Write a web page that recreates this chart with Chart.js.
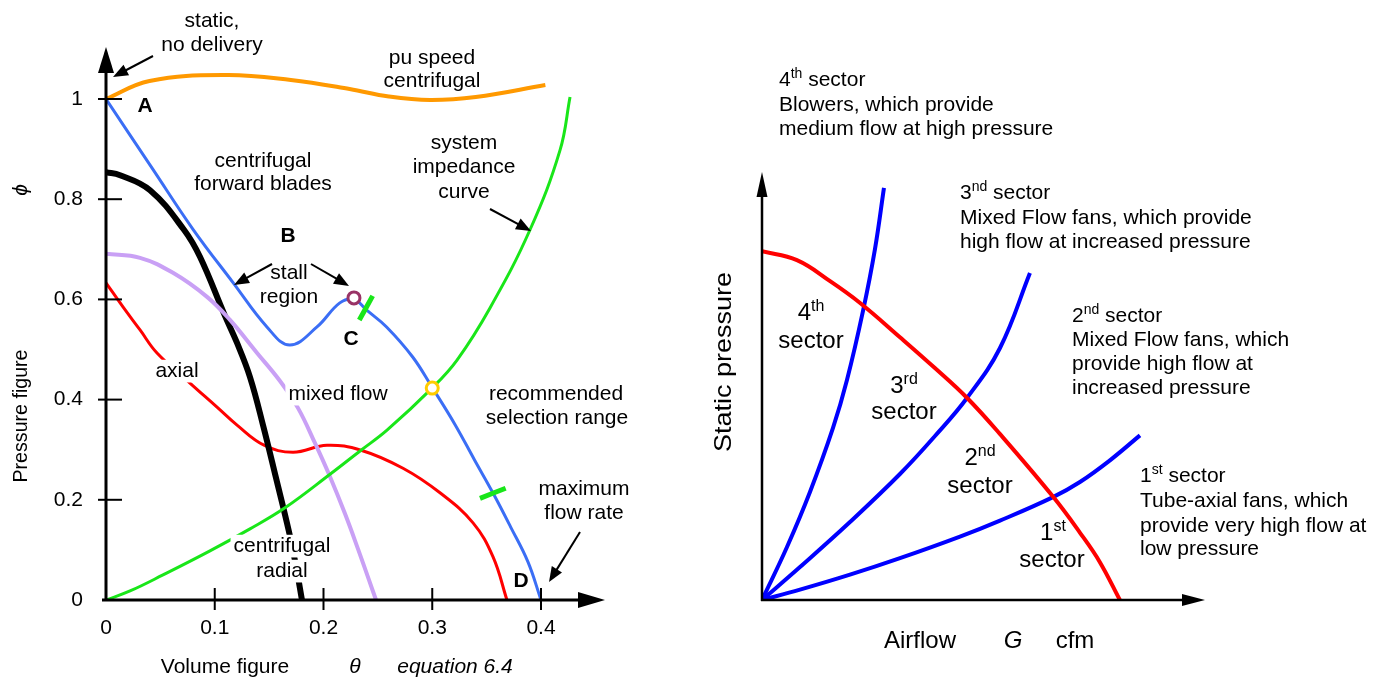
<!DOCTYPE html>
<html>
<head>
<meta charset="utf-8">
<script src="https://cdn.jsdelivr.net/npm/chart.js@4.4.0/dist/chart.umd.min.js"></script>
<style>
body { margin: 0; background: #fff; }
#wrap { position: relative; width: 1376px; height: 680px; }
#left { position: absolute; left: 0; top: 0; }
#right { position: absolute; left: 680px; top: 0; }
</style>
</head>
<body>
<div id="wrap">
<canvas id="left" width="680" height="680"></canvas>
<canvas id="right" width="696" height="680"></canvas>
</div>
<script>
// ---- left diagram: volume figure (theta) vs pressure figure (phi)
const xTicks = [0, 0.1, 0.2, 0.3, 0.4];
const yTicks = [0, 0.2, 0.4, 0.6, 0.8, 1];

const puTheta = [0, 0.04, 0.111, 0.17, 0.224, 0.26, 0.298, 0.34, 0.404];
const puPhi = [1.0, 1.036, 1.048, 1.038, 1.02, 1.005, 0.998, 1.004, 1.028];

const fwdTheta = [0, 0.043, 0.08, 0.117, 0.148, 0.169, 0.194, 0.215, 0.228, 0.24, 0.258, 0.282, 0.3, 0.321, 0.339, 0.356, 0.372, 0.388, 0.4];
const fwdPhi = [1.0, 0.86, 0.74, 0.633, 0.545, 0.509, 0.545, 0.593, 0.6, 0.578, 0.545, 0.485, 0.424, 0.35, 0.279, 0.213, 0.146, 0.076, 0];

const radialTheta = [0, 0.0129, 0.0405, 0.0717, 0.0864, 0.1094, 0.1205, 0.1324, 0.1444, 0.1563, 0.1683, 0.1747, 0.1802];
const radialPhi = [0.854, 0.848, 0.818, 0.739, 0.685, 0.567, 0.513, 0.445, 0.349, 0.244, 0.136, 0.068, 0];

const mixedTheta = [0, 0.0313, 0.0616, 0.0929, 0.114, 0.1389, 0.16, 0.1766, 0.1922, 0.206, 0.2198, 0.2317, 0.2418, 0.2483];
const mixedPhi = [0.691, 0.683, 0.653, 0.605, 0.559, 0.493, 0.437, 0.383, 0.313, 0.246, 0.172, 0.102, 0.04, 0];

const axialTheta = [0, 0.0156, 0.0313, 0.0469, 0.0772, 0.1021, 0.1205, 0.1453, 0.172, 0.2032, 0.2345, 0.2731, 0.3071, 0.3375, 0.3559, 0.3687];
const axialPhi = [0.633, 0.585, 0.539, 0.493, 0.433, 0.385, 0.349, 0.309, 0.295, 0.309, 0.299, 0.263, 0.214, 0.154, 0.086, 0];

const systemTheta = [0, 0.0221, 0.0524, 0.0956, 0.1324, 0.1646, 0.206, 0.2345, 0.2584, 0.2998, 0.3228, 0.3531, 0.3899, 0.4175, 0.4267];
const systemPhi = [0, 0.018, 0.05, 0.098, 0.142, 0.184, 0.251, 0.299, 0.339, 0.423, 0.479, 0.583, 0.739, 0.898, 1.004];

const stallPoint = [0.228, 0.603];      // point C
const operatingPoint = [0.3, 0.423];    // fan curve meets system curve
const rangeMark1Theta = [0.2329, 0.2452];
const rangeMark1Phi = [0.559, 0.607];
const rangeMark2Theta = [0.3439, 0.3675];
const rangeMark2Phi = [0.203, 0.223];

// ---- right diagram: airflow vs static pressure (no units on axes)
const fanFlow = [0, 7.8, 15.2, 21.9, 30.8, 38.6, 45.8, 53.1, 65.0, 71.0, 75.4, 79.9];
const fanPressure = [81.5, 79.4, 74.5, 69.4, 61.4, 54.2, 47.2, 38.8, 24.1, 15.7, 8.9, 0];

const sys4Flow = [0, 5.58, 10.71, 15.85, 18.97, 22.54, 25.22, 27.23];
const sys4Pressure = [0, 12.38, 25.23, 40.19, 51.4, 67.5, 82.0, 96.3];

const sys3Flow = [0, 8.48, 19.64, 30.8, 38.62, 45.76, 53.13, 59.82];
const sys3Pressure = [0, 7.71, 18.22, 29.44, 38.32, 47.2, 58.88, 76.4];

const sys2Flow = [0, 8.48, 19.64, 30.8, 44.2, 53.13, 64.96, 70.98, 77.68, 84.38];
const sys2Pressure = [0, 2.41, 5.91, 9.77, 14.81, 18.55, 24.04, 27.57, 32.64, 38.46];

const FONT = "'Liberation Sans', Arial, Helvetica, sans-serif";

function pts(xs, ys) {
    return xs.map(function (x, i) { return { x: x, y: ys[i] }; });
}

function curve(xs, ys, color, width, order) {
    return {
        data: pts(xs, ys),
        showLine: true,
        borderColor: color,
        borderWidth: width,
        pointRadius: 0,
        fill: false,
        tension: 0.4,
        order: order
    };
}

function marker(p, color) {
    return {
        data: [{ x: p[0], y: p[1] }],
        showLine: false,
        pointStyle: 'circle',
        pointRadius: 6,
        pointBorderWidth: 3,
        pointBorderColor: color,
        pointBackgroundColor: '#fff',
        order: 0
    };
}

function drawText(ctx, t) {
    ctx.save();
    ctx.translate(t.x, t.y);
    if (t.rot) ctx.rotate(t.rot);
    var size = t.size || 21;
    var supSize = t.supSize || Math.round(size * 0.66);
    var parts = t.parts || [{ s: t.s }];
    var fontFor = function (p) {
        return [t.style || '', t.weight || '', (p.sup ? supSize : size) + 'px', FONT].join(' ').trim();
    };
    var total = 0;
    parts.forEach(function (p) {
        ctx.font = fontFor(p);
        p.w = ctx.measureText(p.s).width;
        total += p.w;
    });
    if (t.w) ctx.scale(t.w / total, 1);
    var x0 = t.align === 'left' ? 0 : -total / 2;
    if (t.bg) {
        ctx.fillStyle = '#fff';
        ctx.fillRect(x0 - 3, -size * 0.82, total + 6, size * 1.08);
    }
    ctx.fillStyle = '#000';
    ctx.textAlign = 'left';
    ctx.textBaseline = 'alphabetic';
    parts.forEach(function (p) {
        ctx.font = fontFor(p);
        ctx.fillText(p.s, x0, p.sup ? -size * 0.38 : 0);
        x0 += p.w;
    });
    ctx.restore();
}

function arrowLine(ctx, x1, y1, x2, y2, head, half, lw) {
    var a = Math.atan2(y2 - y1, x2 - x1);
    var bx = x2 - head * Math.cos(a), by = y2 - head * Math.sin(a);
    ctx.lineWidth = lw;
    ctx.beginPath();
    ctx.moveTo(x1, y1);
    ctx.lineTo(bx + Math.cos(a), by + Math.sin(a));
    ctx.stroke();
    ctx.beginPath();
    ctx.moveTo(x2, y2);
    ctx.lineTo(bx + half * Math.sin(a), by - half * Math.cos(a));
    ctx.lineTo(bx - half * Math.sin(a), by + half * Math.cos(a));
    ctx.closePath();
    ctx.fill();
}

// texts and arrows are given in page pixels
const leftLabels = [
    { x: 212, y: 27, s: 'static,' },
    { x: 212, y: 51, s: 'no delivery' },
    { x: 432, y: 64, s: 'pu speed' },
    { x: 432, y: 87, s: 'centrifugal' },
    { x: 145, y: 112, s: 'A', weight: 'bold' },
    { x: 263, y: 167, s: 'centrifugal' },
    { x: 263, y: 190, s: 'forward blades' },
    { x: 464, y: 149, s: 'system' },
    { x: 464, y: 173, s: 'impedance' },
    { x: 464, y: 198, s: 'curve' },
    { x: 288, y: 242, s: 'B', weight: 'bold' },
    { x: 289, y: 279, s: 'stall' },
    { x: 289, y: 303, s: 'region' },
    { x: 351, y: 345, s: 'C', weight: 'bold' },
    { x: 177, y: 377, s: 'axial', bg: true },
    { x: 338, y: 400, s: 'mixed flow', bg: true },
    { x: 556, y: 400, s: 'recommended' },
    { x: 557, y: 424, s: 'selection range' },
    { x: 584, y: 495, s: 'maximum' },
    { x: 584, y: 519, s: 'flow rate' },
    { x: 521, y: 587, s: 'D', weight: 'bold' },
    { x: 282, y: 552, s: 'centrifugal', bg: true },
    { x: 282, y: 577, s: 'radial', bg: true },
    { x: 225, y: 673, s: 'Volume figure' },
    { x: 355, y: 673, s: 'θ', style: 'italic' },
    { x: 455, y: 673, s: 'equation 6.4', style: 'italic' },
    { x: 27, y: 416, s: 'Pressure figure', rot: -Math.PI / 2, size: 20, w: 133 },
    { x: 27, y: 190, s: 'ϕ', rot: -Math.PI / 2, style: 'italic' }
];
const leftArrows = [
    [153, 56, 113, 77],
    [272, 264, 234, 285],
    [311, 264, 349, 286],
    [490, 209, 531, 231],
    [580, 532, 549, 582]
];

const rightLabels = [
    { x: 779, y: 86, parts: [{ s: '4' }, { s: 'th', sup: 1 }, { s: ' sector' }], align: 'left', supSize: 14 },
    { x: 779, y: 111, s: 'Blowers, which provide', align: 'left' },
    { x: 779, y: 135, s: 'medium flow at high pressure', align: 'left' },
    { x: 960, y: 199, parts: [{ s: '3' }, { s: 'nd', sup: 1 }, { s: ' sector' }], align: 'left', supSize: 14 },
    { x: 960, y: 224, s: 'Mixed Flow fans, which provide', align: 'left' },
    { x: 960, y: 248, s: 'high flow at increased pressure', align: 'left' },
    { x: 1072, y: 322, parts: [{ s: '2' }, { s: 'nd', sup: 1 }, { s: ' sector' }], align: 'left', supSize: 14 },
    { x: 1072, y: 346, s: 'Mixed Flow fans, which', align: 'left' },
    { x: 1072, y: 370, s: 'provide high flow at', align: 'left' },
    { x: 1072, y: 394, s: 'increased pressure', align: 'left' },
    { x: 1140, y: 482, parts: [{ s: '1' }, { s: 'st', sup: 1 }, { s: ' sector' }], align: 'left', supSize: 14 },
    { x: 1140, y: 507, s: 'Tube-axial fans, which', align: 'left' },
    { x: 1140, y: 532, s: 'provide very high flow at', align: 'left' },
    { x: 1140, y: 555, s: 'low pressure', align: 'left' },
    { x: 811, y: 320, parts: [{ s: '4' }, { s: 'th', sup: 1 }], size: 24, supSize: 16 },
    { x: 811, y: 348, s: 'sector', size: 24 },
    { x: 904, y: 393, parts: [{ s: '3' }, { s: 'rd', sup: 1 }], size: 24, supSize: 16 },
    { x: 904, y: 419, s: 'sector', size: 24 },
    { x: 980, y: 465, parts: [{ s: '2' }, { s: 'nd', sup: 1 }], size: 24, supSize: 16 },
    { x: 980, y: 493, s: 'sector', size: 24 },
    { x: 1053, y: 540, parts: [{ s: '1' }, { s: 'st', sup: 1 }], size: 24, supSize: 16 },
    { x: 1052, y: 567, s: 'sector', size: 24 },
    { x: 920, y: 648, s: 'Airflow', size: 24 },
    { x: 1013, y: 648, s: 'G', size: 24, style: 'italic' },
    { x: 1075, y: 648, s: 'cfm', size: 24 },
    { x: 731, y: 362, s: 'Static pressure', size: 24, rot: -Math.PI / 2, w: 180 }
];

function makeDrawPlugin(ox, opt) {
    return {
        id: 'drawings',
        afterDatasetsDraw: function (chart) {
            var ctx = chart.ctx;
            var xs = chart.scales.x, ys = chart.scales.y, ca = chart.chartArea;
            var axX = xs.getPixelForValue(0), axY = ys.getPixelForValue(0);
            ctx.save();
            ctx.fillStyle = '#000';
            ctx.strokeStyle = '#000';
            // axes with arrow heads
            arrowLine(ctx, axX, axY + opt.yAxisBelow, axX, ca.top, opt.yHead, opt.yHalf, opt.axisWidth);
            arrowLine(ctx, axX - opt.xAxisLeft, axY, ca.right, axY, opt.xHead, opt.xHalf, opt.axisWidth);
            if (opt.ticks) {
                ctx.lineWidth = 2;
                yTicks.forEach(function (v) {
                    if (v === 0) return;
                    var y = ys.getPixelForValue(v);
                    ctx.beginPath(); ctx.moveTo(axX - 8, y); ctx.lineTo(axX + 16, y); ctx.stroke();
                });
                xTicks.forEach(function (v) {
                    if (v === 0) return;
                    var x = xs.getPixelForValue(v);
                    ctx.beginPath(); ctx.moveTo(x, axY - 12); ctx.lineTo(x, axY + 10); ctx.stroke();
                });
            }
            ctx.translate(-ox, 0);
            (opt.arrows || []).forEach(function (a) {
                arrowLine(ctx, a[0], a[1], a[2], a[3], 15, 6, 2);
            });
            opt.labels.forEach(function (t) { drawText(ctx, t); });
            ctx.restore();
        }
    };
}

const tickFont = { family: FONT, size: 21 };

new Chart(document.getElementById('left'), {
    type: 'scatter',
    data: {
        datasets: [
            marker(stallPoint, '#993366'),
            marker(operatingPoint, '#ffcc00'),
            curve(rangeMark1Theta, rangeMark1Phi, '#19e619', 5, 1),
            curve(rangeMark2Theta, rangeMark2Phi, '#19e619', 5, 1),
            curve(fwdTheta, fwdPhi, '#3b6ef5', 3, 2),
            curve(systemTheta, systemPhi, '#19e619', 3, 3),
            curve(mixedTheta, mixedPhi, '#c9a0f5', 4, 4),
            curve(radialTheta, radialPhi, '#000000', 6, 5),
            curve(axialTheta, axialPhi, '#ff0000', 3, 6),
            curve(puTheta, puPhi, '#ff9900', 4, 7)
        ]
    },
    options: {
        responsive: false,
        animation: false,
        devicePixelRatio: 1,
        layout: { padding: { top: 47, right: 75, left: 0, bottom: 0 } },
        plugins: { legend: { display: false }, tooltip: { enabled: false } },
        scales: {
            x: {
                type: 'linear',
                min: 0,
                max: (605 - 106) / 1087.5,
                grid: { display: false, drawTicks: false },
                border: { display: false },
                afterFit: function (s) { s.height = 80; },
                afterBuildTicks: function (s) { s.ticks = xTicks.map(function (v) { return { value: v }; }); },
                ticks: { padding: 16, color: '#000', font: tickFont, callback: function (v) { return String(v); } }
            },
            y: {
                type: 'linear',
                min: 0,
                max: (600 - 47) / 501,
                grid: { display: false, drawTicks: false },
                border: { display: false },
                afterFit: function (s) { s.width = 106; },
                afterBuildTicks: function (s) { s.ticks = yTicks.map(function (v) { return { value: v }; }); },
                ticks: { padding: 23, color: '#000', font: tickFont, callback: function (v) { return String(v); } }
            }
        }
    },
    plugins: [makeDrawPlugin(0, {
        yAxisBelow: 0, xAxisLeft: 4, yHead: 26, yHalf: 8, xHead: 27, xHalf: 8, axisWidth: 3,
        ticks: true, arrows: leftArrows, labels: leftLabels
    })]
});

new Chart(document.getElementById('right'), {
    type: 'scatter',
    data: {
        datasets: [
            curve(fanFlow, fanPressure, '#ff0000', 4, 1),
            curve(sys4Flow, sys4Pressure, '#0000ff', 4, 2),
            curve(sys3Flow, sys3Pressure, '#0000ff', 4, 2),
            curve(sys2Flow, sys2Pressure, '#0000ff', 4, 2)
        ]
    },
    options: {
        responsive: false,
        animation: false,
        devicePixelRatio: 1,
        layout: { padding: { left: 82, top: 172, right: 171, bottom: 80 } },
        plugins: { legend: { display: false }, tooltip: { enabled: false } },
        scales: {
            x: { type: 'linear', display: false, min: 0, max: 98.9 },
            y: { type: 'linear', display: false, min: 0, max: 100 }
        }
    },
    plugins: [makeDrawPlugin(680, {
        yAxisBelow: 1, xAxisLeft: 1, yHead: 25, yHalf: 5.5, xHead: 23, xHalf: 6, axisWidth: 2.5,
        ticks: false, arrows: [], labels: rightLabels
    })]
});
</script>
</body>
</html>
